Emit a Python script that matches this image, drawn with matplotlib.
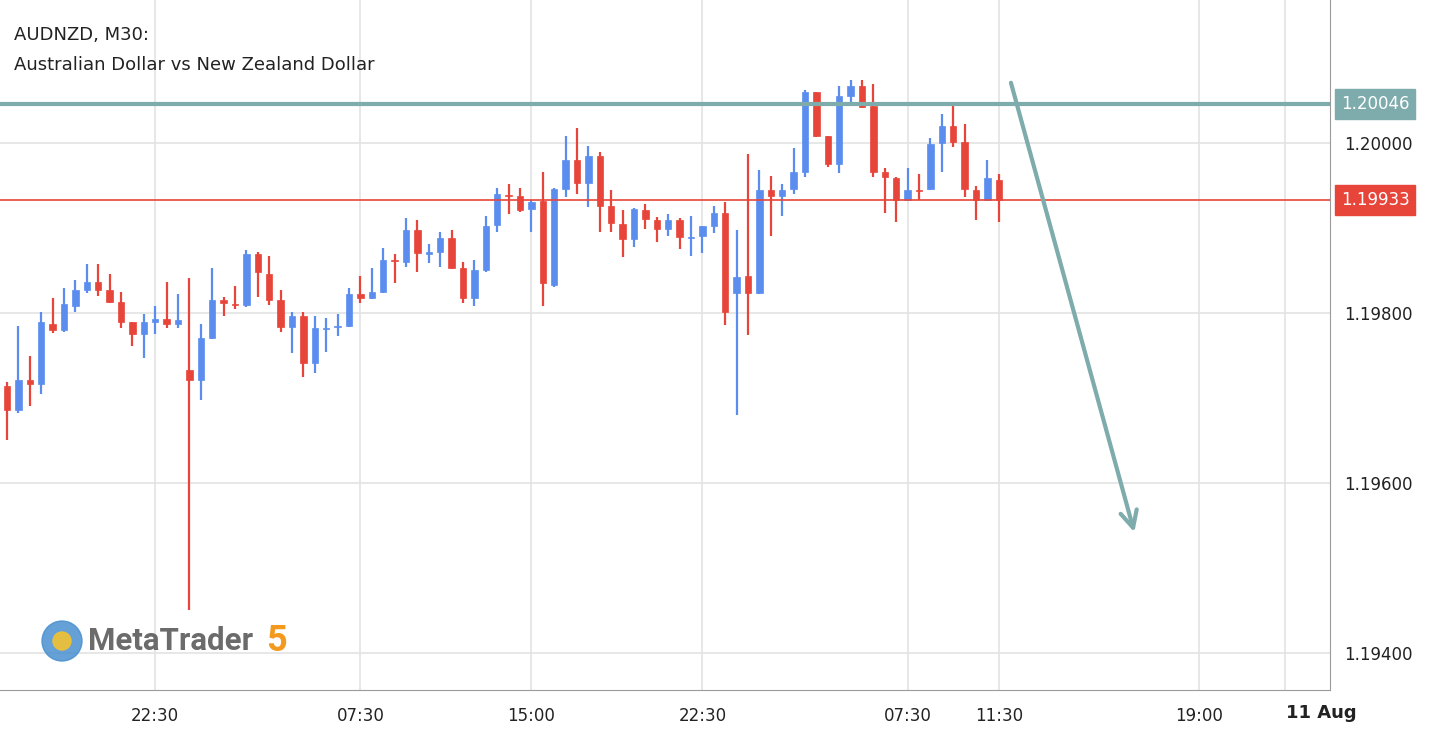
import matplotlib.pyplot as plt
from matplotlib.patches import Rectangle, Circle

opens = [1.19714, 1.19686, 1.19721, 1.19716, 1.19787, 1.19780, 1.19808, 1.19827, 1.19836, 1.19827,
         1.19813, 1.19789, 1.19775, 1.19789, 1.19793, 1.19787, 1.19733, 1.19721, 1.19771, 1.19815,
         1.19811, 1.19809, 1.19869, 1.19846, 1.19815, 1.19784, 1.19796, 1.19741, 1.19781, 1.19784,
         1.19785, 1.19822, 1.19818, 1.19825, 1.19862, 1.19860, 1.19898, 1.19869, 1.19872, 1.19888,
         1.19853, 1.19818, 1.19851, 1.19904, 1.19939, 1.19938, 1.19922, 1.19932, 1.19833, 1.19946,
         1.19980, 1.19953, 1.19985, 1.19926, 1.19905, 1.19887, 1.19921, 1.19909, 1.19899, 1.19909,
         1.19888, 1.19891, 1.19902, 1.19918, 1.19824, 1.19844, 1.19824, 1.19945, 1.19938, 1.19946,
         1.19966, 1.20060, 1.20008, 1.19975, 1.20055, 1.20067, 1.20044, 1.19966, 1.19959, 1.19933,
         1.19945, 1.19946, 1.20000, 1.20020, 1.20001, 1.19945, 1.19933, 1.19956]
highs = [1.19719, 1.19785, 1.19749, 1.19801, 1.19818, 1.19829, 1.19839, 1.19858, 1.19858, 1.19846,
         1.19825, 1.19789, 1.19799, 1.19808, 1.19836, 1.19822, 1.19841, 1.19787, 1.19853, 1.19819,
         1.19832, 1.19874, 1.19872, 1.19867, 1.19827, 1.19801, 1.19801, 1.19796, 1.19794, 1.19799,
         1.19829, 1.19844, 1.19853, 1.19876, 1.19869, 1.19912, 1.19909, 1.19881, 1.19895, 1.19898,
         1.19860, 1.19862, 1.19914, 1.19947, 1.19952, 1.19947, 1.19933, 1.19966, 1.19947, 1.20008,
         1.20018, 1.19996, 1.19989, 1.19945, 1.19921, 1.19924, 1.19928, 1.19913, 1.19916, 1.19912,
         1.19914, 1.19902, 1.19926, 1.19931, 1.19898, 1.19987, 1.19968, 1.19961, 1.19952, 1.19994,
         1.20062, 1.20060, 1.20008, 1.20067, 1.20074, 1.20074, 1.20069, 1.19971, 1.19960, 1.19971,
         1.19964, 1.20006, 1.20034, 1.20044, 1.20022, 1.19949, 1.19980, 1.19964]
lows = [1.19651, 1.19682, 1.19691, 1.19705, 1.19776, 1.19778, 1.19801, 1.19824, 1.19820, 1.19812,
        1.19782, 1.19761, 1.19747, 1.19775, 1.19782, 1.19782, 1.19451, 1.19698, 1.19769, 1.19796,
        1.19805, 1.19807, 1.19819, 1.19809, 1.19778, 1.19753, 1.19725, 1.19729, 1.19754, 1.19773,
        1.19784, 1.19812, 1.19816, 1.19824, 1.19835, 1.19854, 1.19848, 1.19859, 1.19854, 1.19852,
        1.19812, 1.19808, 1.19848, 1.19895, 1.19916, 1.19919, 1.19895, 1.19808, 1.19831, 1.19936,
        1.19940, 1.19925, 1.19895, 1.19895, 1.19866, 1.19878, 1.19899, 1.19884, 1.19891, 1.19875,
        1.19867, 1.19871, 1.19894, 1.19786, 1.19680, 1.19774, 1.19822, 1.19891, 1.19914, 1.19940,
        1.19960, 1.20007, 1.19972, 1.19965, 1.20047, 1.20041, 1.19960, 1.19918, 1.19907, 1.19932,
        1.19933, 1.19945, 1.19966, 1.19995, 1.19936, 1.19909, 1.19932, 1.19907]
closes = [1.19686, 1.19721, 1.19716, 1.19789, 1.19780, 1.19811, 1.19827, 1.19836, 1.19827, 1.19813,
          1.19789, 1.19775, 1.19789, 1.19793, 1.19787, 1.19792, 1.19721, 1.19771, 1.19815, 1.19812,
          1.19809, 1.19869, 1.19848, 1.19815, 1.19784, 1.19796, 1.19741, 1.19782, 1.19782, 1.19785,
          1.19822, 1.19818, 1.19825, 1.19862, 1.19861, 1.19898, 1.19871, 1.19872, 1.19888, 1.19853,
          1.19818, 1.19851, 1.19902, 1.19940, 1.19938, 1.19921, 1.19931, 1.19835, 1.19946, 1.19980,
          1.19953, 1.19985, 1.19926, 1.19906, 1.19887, 1.19922, 1.19911, 1.19899, 1.19909, 1.19889,
          1.19889, 1.19902, 1.19918, 1.19801, 1.19842, 1.19824, 1.19945, 1.19938, 1.19945, 1.19966,
          1.20060, 1.20008, 1.19975, 1.20055, 1.20067, 1.20042, 1.19966, 1.19960, 1.19933, 1.19945,
          1.19944, 1.19999, 1.20020, 1.20001, 1.19946, 1.19933, 1.19959, 1.19933]

tick_pos = [13, 31, 46, 61, 79, 87, 104.6]
tick_labels = ["22:30", "07:30", "15:00", "22:30", "07:30", "11:30", "19:00"]
aug_pos = 112.1
y_ticks = [1.194, 1.196, 1.198, 1.200]
resistance = 1.20046
last_price = 1.19933
arrow_start = (88.0, 1.20074)
arrow_end = (98.95, 1.19539)

BLUE = "#5b8def"
RED = "#e8453a"
TEAL = "#7eabab"

fig = plt.figure(figsize=(14.42, 7.40), dpi=100)
ax = fig.add_axes([0, 50 / 740, 1330 / 1442, 690 / 740])
ax.set_xlim(-0.61, 116.05)
ax.set_ylim(1.193565, 1.201682)

for i, (o, h, l, c) in enumerate(zip(opens, highs, lows, closes)):
    col = BLUE if c >= o else RED
    ax.vlines(i, l, h, color=col, lw=1.6, zorder=3)
    ax.add_patch(Rectangle((i - 0.28, min(o, c)), 0.56, max(abs(c - o), 0.000012),
                           facecolor=col, edgecolor=col, lw=0.5, zorder=3))

for y in y_ticks:
    ax.axhline(y, color="#e3e3e3", lw=1.2, zorder=0)
for x in tick_pos + [aug_pos]:
    ax.axvline(x, color="#e3e3e3", lw=1.2, zorder=0)

ax.axhline(resistance, color=TEAL, lw=3, zorder=4)
ax.axhline(last_price, color=RED, lw=1.2, zorder=4)

ax.annotate("", xy=arrow_end, xytext=arrow_start,
            arrowprops=dict(arrowstyle="->,head_length=1.2,head_width=0.6", color=TEAL, lw=3), zorder=5)

ax.yaxis.tick_right()
ax.set_yticks(y_ticks)
ax.set_yticklabels([f"{v:.5f}" for v in y_ticks], fontsize=12, color="#222222")
ax.set_xticks(tick_pos)
ax.set_xticklabels(tick_labels, fontsize=12, color="#222222")
ax.tick_params(length=0, pad=12)
ax.tick_params(axis="y", pad=10)
ax.text(aug_pos + 0.1, -0.02, "11 Aug", transform=ax.get_xaxis_transform(), ha="left", va="top",
        fontsize=13, fontweight="bold", color="#222222")
for s in ["top", "left"]:
    ax.spines[s].set_visible(False)
for s in ["right", "bottom"]:
    ax.spines[s].set_color("#9a9a9a")

trans = ax.get_yaxis_transform()
ax.text(1.008, resistance, "1.20046", transform=trans, va="center", ha="left", fontsize=12,
        color="white", bbox=dict(boxstyle="square,pad=0.35", fc=TEAL, ec=TEAL), clip_on=False)
ax.text(1.008, last_price, "1.19933", transform=trans, va="center", ha="left", fontsize=12,
        color="white", bbox=dict(boxstyle="square,pad=0.35", fc=RED, ec=RED), clip_on=False)

fig.text(14 / 1442, 1 - 35 / 740, "AUDNZD, M30:", fontsize=13, va="center", color="#222222")
fig.text(14 / 1442, 1 - 65 / 740, "Australian Dollar vs New Zealand Dollar", fontsize=13,
         va="center", color="#222222")
fig.text(88 / 1442, 1 - 641 / 740, "MetaTrader", fontsize=22.5, fontweight="bold", va="center",
         family="Roboto", color="#6b6b6b")
fig.text(266 / 1442, 1 - 641 / 740, "5", fontsize=26, fontweight="bold", va="center",
         family="Roboto", color="#f39a1e")
fig.patches.append(Circle((62, 740 - 641), 20, transform=None, color="#4a90d0", alpha=0.85))
fig.patches.append(Circle((62, 740 - 641), 9, transform=None, color="#f2c230", alpha=0.9))

fig.savefig("out.png", dpi=100)
